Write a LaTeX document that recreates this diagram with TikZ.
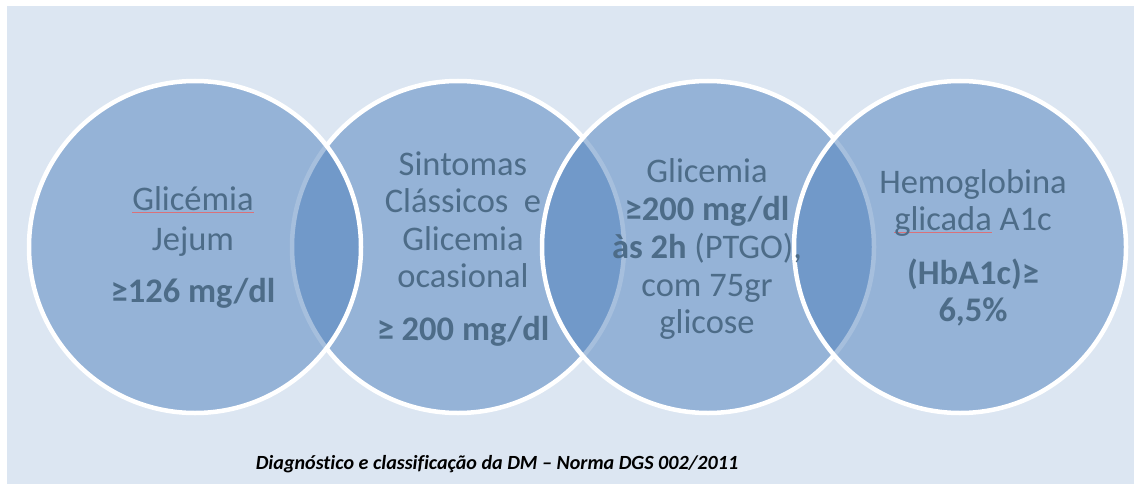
\documentclass[tikz,border=0pt]{standalone}
\usepackage{fontspec}
\setmainfont[Ligatures=NoCommon]{Carlito}
\definecolor{bgc}{HTML}{DCE6F2}
\definecolor{acc}{HTML}{4F81BD}
\definecolor{txtc}{HTML}{4D6C88}
\definecolor{spellred}{HTML}{D9727A}
\newsavebox\spbox
\newcommand\spellu[1]{\sbox\spbox{#1}\rlap{\color{spellred}\rule[-2.5pt]{\wd\spbox}{0.9pt}}\usebox\spbox}
\tikzset{
  venn/.style={fill=acc, fill opacity=0.5, draw=white, draw opacity=1, line width=4.5pt},
  txt/.style={anchor=base, inner sep=0pt, text=txtc, font=\fontsize{34.5}{40}\selectfont},
  btxt/.style={txt, font=\fontsize{34.5}{40}\selectfont\bfseries},
  captxt/.style={anchor=base, inner sep=0pt, text=black, font=\fontsize{20.1}{24}\selectfont\bfseries\itshape}
}
\begin{document}
\begin{tikzpicture}[x=1pt,y=-1pt]
\useasboundingbox (0,0) rectangle (1134,484);
\fill[white] (0,0) rectangle (1134,484);
\fill[bgc] (7,6) rectangle (1134,484);
% circles (order: 2,1,3,4)
\path[venn] (458,247) circle[radius=166];
\path[venn] (195,247) circle[radius=166];
\path[venn] (708,247) circle[radius=166];
\path[venn] (960,247) circle[radius=166];
% circle 1
\node[txt] (a1) at (193,210) {\spellu{Glicémia}};
\node[txt] (a2) at (193,250) {Jejum};
\node[btxt] (a3) at (193,302) {≥126 mg/dl};
% circle 2
\node[txt] (b1) at (463,175) {Sintomas};
\node[txt] (b2) at (463,212) {Clássicos\ \ e};
\node[txt] (b3) at (463,250) {Glicemia};
\node[txt] (b4) at (463,287) {ocasional};
\node[btxt] (b5) at (463,340) {≥ 200 mg/dl};
% circle 3
\node[txt] (c1) at (707,182) {Glicemia};
\node[btxt] (c2) at (707,220) {≥200 mg/dl};
\node[txt] (c3) at (707,258) {\textbf{às 2h} (PTGO),};
\node[txt] (c4) at (707,296) {com 75gr};
\node[txt] (c5) at (707,333) {glicose};
% circle 4
\node[txt] (d1) at (973,193) {Hemoglobina};
\node[txt] (d2) at (973,230) {\spellu{glicada} A1c};
\node[btxt] (d3) at (973,284) {(HbA1c)≥};
\node[btxt] (d4) at (973,321) {6,5\%};
% caption
\node[captxt] (caption) at (497,469) {Diagnóstico e classificação da DM – Norma DGS 002/2011};
\end{tikzpicture}
\end{document}
